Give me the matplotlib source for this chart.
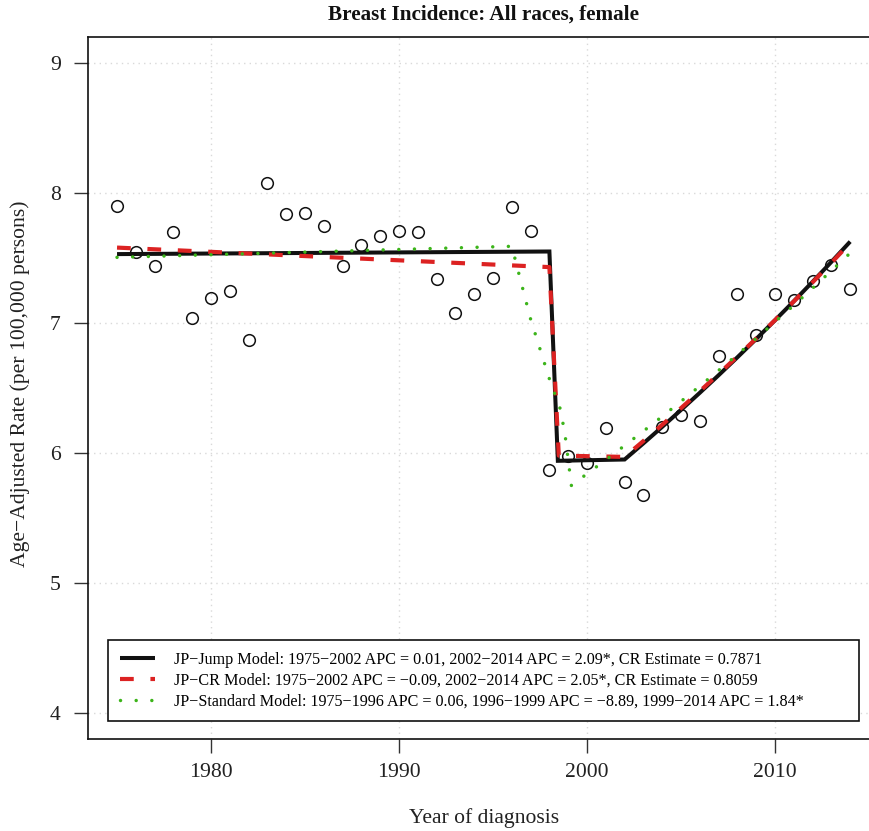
import matplotlib
matplotlib.use("Agg")
import matplotlib.pyplot as plt

# ---------------- data ----------------
years = list(range(1975, 2015))
observed = [7.90, 7.55, 7.44, 7.70, 7.04, 7.19, 7.25, 6.87, 8.08, 7.84,
            7.85, 7.75, 7.44, 7.60, 7.67, 7.71, 7.70, 7.34, 7.08, 7.22,
            7.35, 7.89, 7.71, 5.87, 5.98, 5.92, 6.19, 5.78, 5.68, 6.20,
            6.29, 6.25, 6.75, 7.22, 6.91, 7.22, 7.18, 7.32, 7.45, 7.26]

jump_x = [1975, 1998, 1998.45, 2002, 2003, 2004, 2005, 2006, 2007, 2008,
          2009, 2010, 2011, 2012, 2013, 2014]
jump_y = [7.53, 7.55, 5.94, 5.95, 6.074, 6.201, 6.331, 6.463, 6.598, 6.736,
          6.877, 7.021, 7.167, 7.317, 7.470, 7.626]

cr_x = [1975, 1998, 1998.5, 2002, 2003, 2004, 2005, 2006, 2007, 2008,
        2009, 2010, 2011, 2012, 2013, 2014]
cr_y = [7.58, 7.43, 5.98, 5.97, 6.092, 6.217, 6.345, 6.475, 6.608, 6.743,
        6.881, 7.022, 7.166, 7.313, 7.463, 7.616]

std_x = [1975, 1996, 1997, 1998, 1998.6, 1998.85, 1999.17, 2000, 2001, 2002,
         2003, 2004, 2005, 2006, 2007, 2008, 2009, 2010, 2011, 2012, 2013, 2014]
std_y = [7.505, 7.59, 7.03, 6.57, 6.33, 6.12, 5.75, 5.84, 5.947, 6.057,
         6.168, 6.281, 6.397, 6.515, 6.635, 6.757, 6.881, 7.008, 7.136, 7.268,
         7.402, 7.538]

labels = [
    "JP\u2212Jump Model: 1975\u22122002 APC = 0.01, 2002\u22122014 APC = 2.09*, CR Estimate = 0.7871",
    "JP\u2212CR Model: 1975\u22122002 APC = \u22120.09, 2002\u22122014 APC = 2.05*, CR Estimate = 0.8059",
    "JP\u2212Standard Model: 1975\u22121996 APC = 0.06, 1996\u22121999 APC = \u22128.89, 1999\u22122014 APC = 1.84*",
]
xticks = [1980, 1990, 2000, 2010]
yticks = [4, 5, 6, 7, 8, 9]

title = "Breast Incidence: All races, female"
xlabel = "Year of diagnosis"
ylabel = "Age\u2212Adjusted Rate (per 100,000 persons)"

# ---------------- figure ----------------
plt.rcParams['font.family'] = ['Liberation Serif', 'DejaVu Serif']
W, H = 869, 831
fig = plt.figure(figsize=(W / 100, H / 100), dpi=100)
L, R, T, B = 87.7, 879.5, 37, 739
ax = fig.add_axes([L / W, (H - B) / H, (R - L) / W, (B - T) / H])
ax.set_xlim(1973.44, 2015.56)
ax.set_ylim(3.8, 9.2)

ax.set_xticks(xticks)
ax.set_yticks(yticks)
ax.tick_params(axis='both', length=10.4, width=1.0, color='#333333',
               labelsize=15.6, labelcolor='#222222')
ax.tick_params(axis='x', pad=7)
ax.tick_params(axis='y', pad=9)
for s in ax.spines.values():
    s.set_linewidth(1.2)
    s.set_color('#111111')

ax.grid(True, color='#d9d9d9', linestyle=(0, (1, 3)), linewidth=1.0)
ax.set_axisbelow(True)

ax.plot(years, observed, linestyle='none', marker='o', markersize=8.4,
        markerfacecolor='none', markeredgecolor='#111111', markeredgewidth=1.1,
        zorder=3)

ax.plot(jump_x, jump_y, color='#111111', linewidth=2.9, solid_capstyle='butt',
        solid_joinstyle='miter', zorder=4, label=labels[0])
ax.plot(cr_x, cr_y, color='#dc2222', linewidth=3.0, linestyle=(0, (3.3, 4.0)),
        dash_capstyle='butt', zorder=5, label=labels[1])
ax.plot(std_x, std_y, color='#3cb41a', linewidth=2.5, linestyle=(0, (0.01, 4.5)),
        dash_capstyle='round', zorder=6, label=labels[2])

leg = ax.legend(loc='lower left',
                bbox_to_anchor=((108 - L) / (R - L), (B - 721) / (B - T),
                                (859 - 108) / (R - L), (721 - 639) / (B - T)),
                mode='expand', borderaxespad=0, fancybox=False, framealpha=1,
                edgecolor='#111111', fontsize=11.6, handlelength=2.2,
                handletextpad=1.2, labelspacing=0.3, borderpad=0.72)
leg.get_frame().set_linewidth(1.2)

fig.text((L + R) / 2 / W, 1 - 15 / H, title, ha='center', va='center',
         fontsize=15.2, fontweight='bold', color='#111111')
fig.text((L + R) / 2 / W, 1 - 818 / H, xlabel, ha='center', va='center',
         fontsize=15.6, color='#222222')
fig.text(20 / W, 1 - 384 / H, ylabel, ha='center', va='center', rotation=90,
         fontsize=15.6, color='#222222')

fig.savefig('out.png', dpi=100)
